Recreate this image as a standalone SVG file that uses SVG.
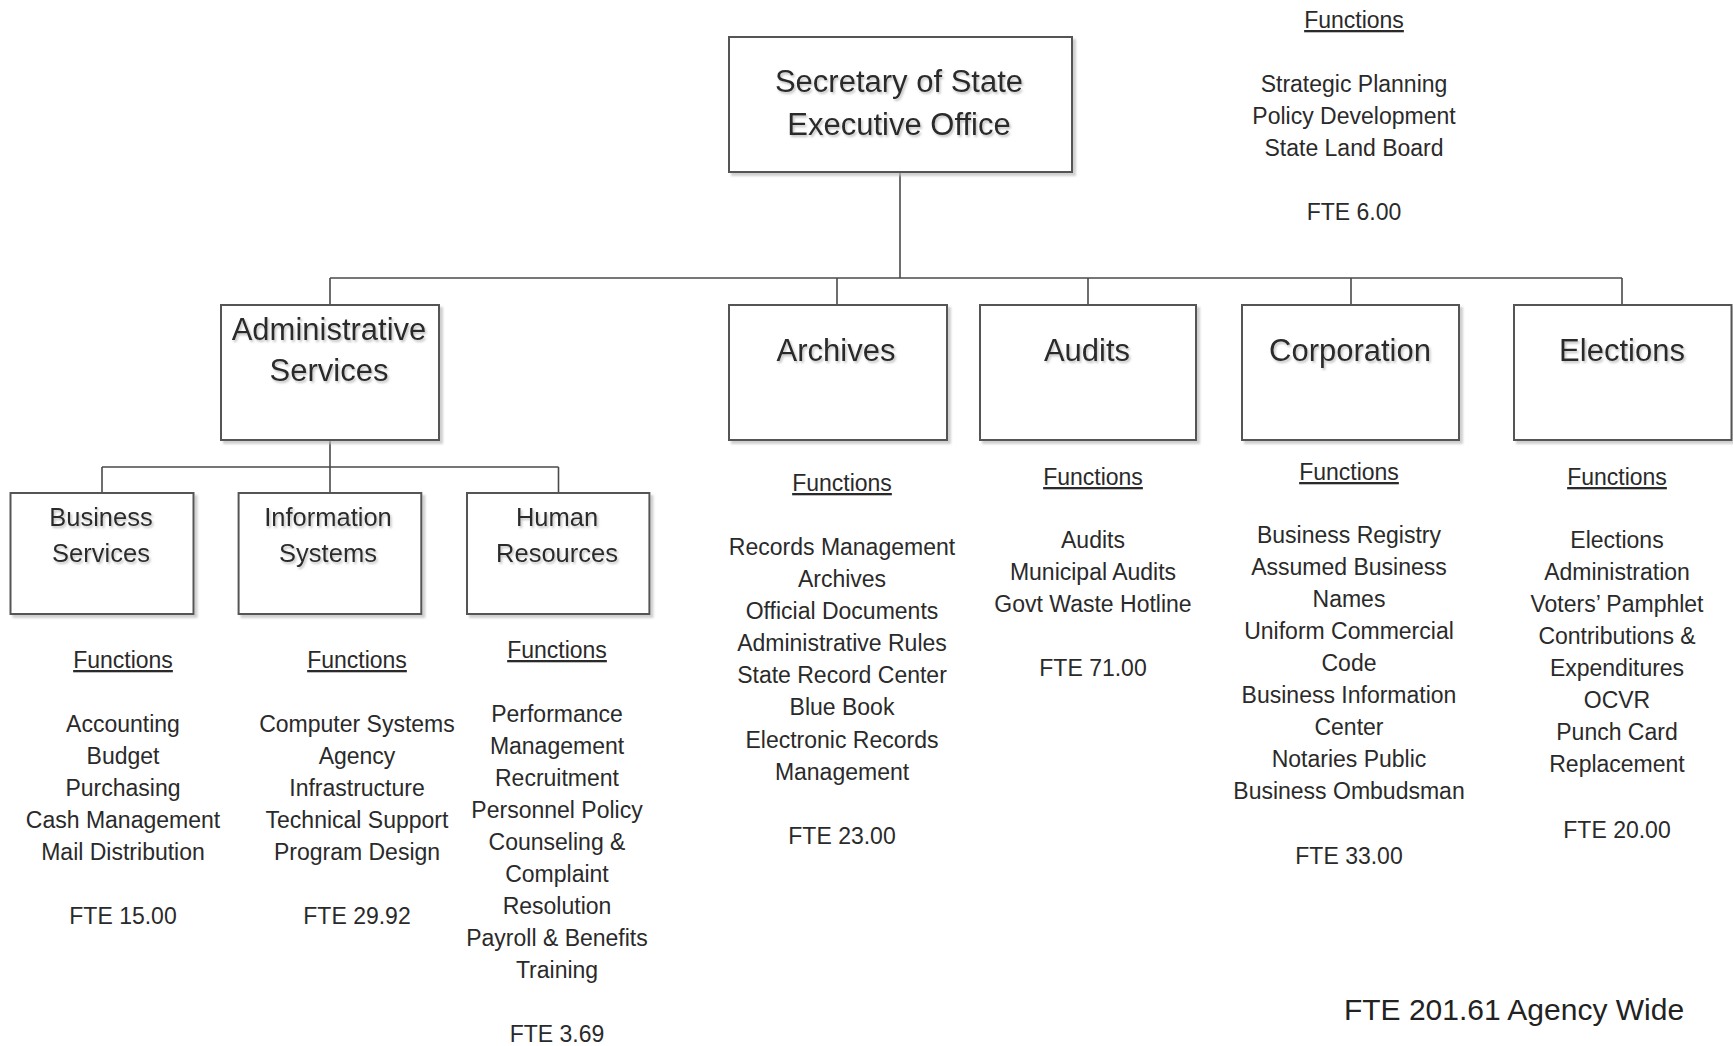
<svg xmlns="http://www.w3.org/2000/svg" width="1733" height="1046" viewBox="0 0 1733 1046">
<defs>
<filter id="bs" x="-5%" y="-5%" width="115%" height="115%">
<feDropShadow dx="3" dy="3" stdDeviation="1" flood-color="#bbbbbb" flood-opacity="0.7"/>
</filter>
<filter id="ts" x="-5%" y="-20%" width="115%" height="150%">
<feDropShadow dx="1.5" dy="2" stdDeviation="1.2" flood-color="#999999" flood-opacity="0.6"/>
</filter>
<style>
.box{fill:#ffffff;stroke:#555555;stroke-width:2;filter:url(#bs)}
.conn{fill:none;stroke:#4a4a4a;stroke-width:1.6}
text{font-family:"Liberation Sans",Arial,sans-serif;fill:#2a2a2a;text-anchor:middle}
.t{font-size:31px;filter:url(#ts)}
.st{font-size:25.5px;filter:url(#ts)}
.f{font-size:23px}
.u{text-decoration:underline}
.tot{font-size:30px;fill:#222222}
</style>
</defs>
<rect width="1733" height="1046" fill="#ffffff"/>

<g id="connectors">
<path class="conn" d="M900 172 V278"/>
<path class="conn" d="M330 278 H1622"/>
<path class="conn" d="M330 278 V305 M837 278 V305 M1088 278 V305 M1351 278 V305 M1622 278 V305"/>
<path class="conn" d="M330 440 V467 M102 467 H558.5 M102 467 V493 M330 467 V493 M558.5 467 V493"/>
</g>

<g id="secretary-of-state">
<rect class="box" x="729" y="37" width="343" height="135"/>
<text class="t" x="899" y="92">Secretary of State</text>
<text class="t" x="899" y="135">Executive Office</text>
</g>

<g id="executive-functions">
<text class="f u" x="1354" y="28">Functions</text>
<text class="f" x="1354" y="92">Strategic Planning</text>
<text class="f" x="1354" y="124">Policy Development</text>
<text class="f" x="1354" y="156">State Land Board</text>
<text class="f" x="1354" y="220">FTE 6.00</text>
</g>

<g id="administrative-services">
<rect class="box" x="221" y="305" width="218" height="135"/>
<text class="t" x="329" y="340">Administrative</text>
<text class="t" x="329" y="381">Services</text>
</g>

<g id="archives">
<rect class="box" x="729" y="305" width="218" height="135"/>
<text class="t" x="836" y="361">Archives</text>
<text class="f u" x="842" y="491">Functions</text>
<text class="f" x="842" y="555">Records Management</text>
<text class="f" x="842" y="587">Archives</text>
<text class="f" x="842" y="619">Official Documents</text>
<text class="f" x="842" y="651">Administrative Rules</text>
<text class="f" x="842" y="683">State Record Center</text>
<text class="f" x="842" y="715">Blue Book</text>
<text class="f" x="842" y="748">Electronic Records</text>
<text class="f" x="842" y="780">Management</text>
<text class="f" x="842" y="844">FTE 23.00</text>
</g>

<g id="audits">
<rect class="box" x="980" y="305" width="216" height="135"/>
<text class="t" x="1087" y="361">Audits</text>
<text class="f u" x="1093" y="485">Functions</text>
<text class="f" x="1093" y="548">Audits</text>
<text class="f" x="1093" y="580">Municipal Audits</text>
<text class="f" x="1093" y="612">Govt Waste Hotline</text>
<text class="f" x="1093" y="676">FTE 71.00</text>
</g>

<g id="corporation">
<rect class="box" x="1242" y="305" width="217" height="135"/>
<text class="t" x="1350" y="361">Corporation</text>
<text class="f u" x="1349" y="480">Functions</text>
<text class="f" x="1349" y="543">Business Registry</text>
<text class="f" x="1349" y="575">Assumed Business</text>
<text class="f" x="1349" y="607">Names</text>
<text class="f" x="1349" y="639">Uniform Commercial</text>
<text class="f" x="1349" y="671">Code</text>
<text class="f" x="1349" y="703">Business Information</text>
<text class="f" x="1349" y="735">Center</text>
<text class="f" x="1349" y="767">Notaries Public</text>
<text class="f" x="1349" y="799">Business Ombudsman</text>
<text class="f" x="1349" y="864">FTE 33.00</text>
</g>

<g id="elections">
<rect class="box" x="1514" y="305" width="217.5" height="135"/>
<text class="t" x="1622" y="361">Elections</text>
<text class="f u" x="1617" y="485">Functions</text>
<text class="f" x="1617" y="548">Elections</text>
<text class="f" x="1617" y="580">Administration</text>
<text class="f" x="1617" y="612">Voters’ Pamphlet</text>
<text class="f" x="1617" y="644">Contributions &amp;</text>
<text class="f" x="1617" y="676">Expenditures</text>
<text class="f" x="1617" y="708">OCVR</text>
<text class="f" x="1617" y="740">Punch Card</text>
<text class="f" x="1617" y="772">Replacement</text>
<text class="f" x="1617" y="838">FTE 20.00</text>
</g>

<g id="business-services">
<rect class="box" x="10.5" y="493" width="183" height="121"/>
<text class="st" x="101" y="526">Business</text>
<text class="st" x="101" y="562">Services</text>
<text class="f u" x="123" y="668">Functions</text>
<text class="f" x="123" y="732">Accounting</text>
<text class="f" x="123" y="764">Budget</text>
<text class="f" x="123" y="796">Purchasing</text>
<text class="f" x="123" y="828">Cash Management</text>
<text class="f" x="123" y="860">Mail Distribution</text>
<text class="f" x="123" y="924">FTE 15.00</text>
</g>

<g id="information-systems">
<rect class="box" x="238.6" y="493" width="182.7" height="121"/>
<text class="st" x="328" y="526">Information</text>
<text class="st" x="328" y="562">Systems</text>
<text class="f u" x="357" y="668">Functions</text>
<text class="f" x="357" y="732">Computer Systems</text>
<text class="f" x="357" y="764">Agency</text>
<text class="f" x="357" y="796">Infrastructure</text>
<text class="f" x="357" y="828">Technical Support</text>
<text class="f" x="357" y="860">Program Design</text>
<text class="f" x="357" y="924">FTE 29.92</text>
</g>

<g id="human-resources">
<rect class="box" x="467" y="493" width="182.4" height="121"/>
<text class="st" x="557" y="526">Human</text>
<text class="st" x="557" y="562">Resources</text>
<text class="f u" x="557" y="658">Functions</text>
<text class="f" x="557" y="722">Performance</text>
<text class="f" x="557" y="754">Management</text>
<text class="f" x="557" y="786">Recruitment</text>
<text class="f" x="557" y="818">Personnel Policy</text>
<text class="f" x="557" y="850">Counseling &amp;</text>
<text class="f" x="557" y="882">Complaint</text>
<text class="f" x="557" y="914">Resolution</text>
<text class="f" x="557" y="946">Payroll &amp; Benefits</text>
<text class="f" x="557" y="978">Training</text>
<text class="f" x="557" y="1042">FTE 3.69</text>
</g>

<g id="agency-total">
<text class="tot" x="1514" y="1020">FTE 201.61 Agency Wide</text>
</g>
</svg>
